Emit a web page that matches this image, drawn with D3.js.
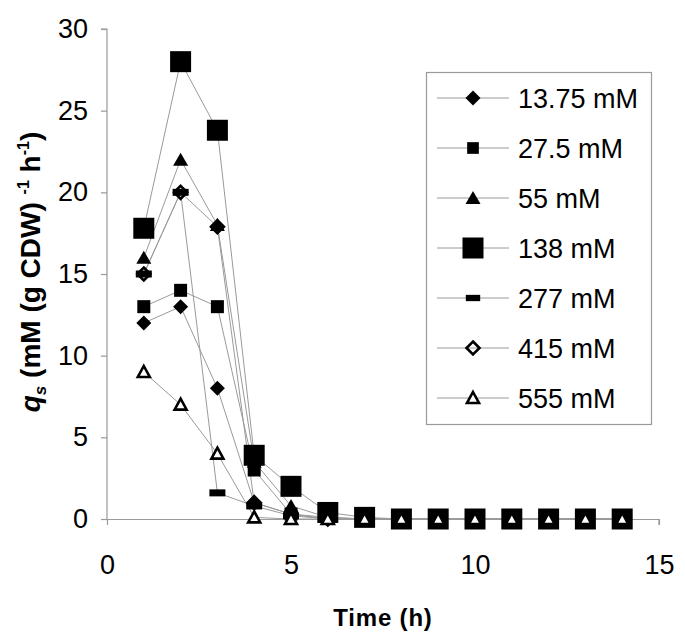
<!DOCTYPE html>
<html><head><meta charset="utf-8">
<script src="https://cdn.jsdelivr.net/npm/d3@7"></script>
<style>html,body{margin:0;padding:0;background:#fff;}svg{display:block;font-family:"Liberation Sans",Arial,sans-serif;}</style>
</head><body><svg id="c" width="685" height="637"></svg>
<script>
const time = [1,2,3,4,5,6,7,8,9,10,11,12,13,14];
const seriesNames = ["13.75 mM","27.5 mM","55 mM","138 mM","277 mM","415 mM","555 mM"];
const s13_75 = [12, 13, 8, 1, 0.3, 0, 0, 0, 0, 0, 0, 0, 0, 0];
const s27_5  = [13, 14, 13, 3, 0.3, 0.1, 0, 0, 0, 0, 0, 0, 0, 0];
const s55    = [16, 22, 18, 3.5, 0.8, 0.1, 0, 0, 0, 0, 0, 0, 0, 0];
const s138   = [17.8, 28, 23.8, 3.9, 2, 0.4, 0.1, 0, 0, 0, 0, 0, 0, 0];
const s277   = [15, 20, 1.6, 0.8, 0.2, 0, 0, 0, 0, 0, 0, 0, 0, 0];
const s415   = [15, 20, 17.9, 1, 0.3, 0, 0, 0, 0, 0, 0, 0, 0, 0];
const s555   = [9, 7, 4, 0.1, 0, 0, 0, 0, 0, 0, 0, 0, 0, 0];
const xTicks = [0, 5, 10, 15];
const yTicks = [0, 5, 10, 15, 20, 25, 30];
const markers = ["diamond","square","triangle","bigsquare","dash","odiamond","otriangle"];

const values = [s13_75, s27_5, s55, s138, s277, s415, s555];
const series = seriesNames.map((n,i)=>({name:n, marker:markers[i], pts: time.map((t,j)=>({t, v: values[i][j]}))}));

const svg = d3.select("#c");
const x = d3.scaleLinear().domain([0,15]).range([107,659]);
const y = d3.scaleLinear().domain([0,30]).range([519,29]);
const gray = "#9a9a9a";

function markerPath(type, s){
  switch(type){
    case "diamond": { const h=7.5; return `M0,${-h}L${h},0L0,${h}L${-h},0Z`; }
    case "odiamond": { const h=6.5; return `M0,${-h}L${h},0L0,${h}L${-h},0Z`; }
    case "square": { const h=6.5*s; return `M${-h},${-h}H${h}V${h}H${-h}Z`; }
    case "bigsquare": { const h=10.5; return `M${-h},${-h}H${h}V${h}H${-h}Z`; }
    case "triangle": { const w=7.5, t=7, b=6; return `M0,${-t}L${w},${b}L${-w},${b}Z`; }
    case "otriangle": { const w=6, t=6, b=5; return `M0,${-t}L${w},${b}L${-w},${b}Z`; }
    case "dash": { const w=8*s, h=3.5*s; return `M${-w},${-h}H${w}V${h}H${-w}Z`; }
  }
}
function styleMarker(sel, type){
  const open = type==="odiamond"||type==="otriangle";
  sel.attr("fill", type==="odiamond" ? "none" : (open ? "#fff" : "#000"))
     .attr("stroke", open ? "#000" : "none")
     .attr("stroke-width", open ? 2.6 : 0);
}

// axes
const yAxis = d3.axisLeft(y).tickValues(yTicks).tickSize(6).tickPadding(13).tickFormat(d3.format("d"));
const gy = svg.append("g").attr("transform","translate(107,0)").call(yAxis);
const xAxis = d3.axisBottom(x).tickValues(xTicks).tickSize(6).tickPadding(30).tickFormat(d3.format("d"));
const gx = svg.append("g").attr("transform","translate(0,519)").call(xAxis);
[gx, gy].forEach(g=>{
  g.select(".domain").attr("stroke", gray).attr("stroke-width",1.2);
  g.selectAll(".tick line").attr("stroke", gray).attr("stroke-width",1.2);
  g.selectAll(".tick text").attr("fill","#000").attr("font-size", 27).attr("font-family","Liberation Sans, Arial, sans-serif");
});
gx.select(".domain").attr("d", `M101,0.5H${x(15)}V6`);
gy.select(".domain").attr("d", `M-6,${y(30)}H0V${y(0)}`);

// lines
const line = d3.line().x(d=>x(d.t)).y(d=>y(d.v));
series.forEach(s=>{
  svg.append("path").datum(s.pts).attr("d", line).attr("fill","none").attr("stroke", gray).attr("stroke-width",1);
});
// markers
series.forEach(s=>{
  const g = svg.append("g");
  g.selectAll("path").data(s.pts).join("path")
    .attr("transform", d=>`translate(${x(d.t)},${y(d.v)})`)
    .attr("d", markerPath(s.marker,1))
    .call(styleMarker, s.marker);
});

// legend
const lg = svg.append("g");
lg.append("rect").attr("x",426.5).attr("y",72.5).attr("width",225).attr("height",352)
  .attr("fill","#fff").attr("stroke", gray).attr("stroke-width",1.2);
series.forEach((s,i)=>{
  const cy = 98 + i*50;
  lg.append("line").attr("x1",437).attr("x2",509).attr("y1",cy).attr("y2",cy).attr("stroke",gray).attr("stroke-width",1);
  lg.append("path").attr("transform",`translate(473,${cy})`).attr("d", markerPath(s.marker,0.9)).call(styleMarker, s.marker);
  lg.append("text").attr("x",518).attr("y",cy+10).attr("font-size",27).text(s.name);
});

// axis titles
svg.append("text").attr("x",383).attr("y",626).attr("text-anchor","middle")
  .attr("font-size",24).attr("font-weight","bold").attr("letter-spacing",0.8).text("Time (h)");
const yt = svg.append("text").attr("transform","translate(40,272) rotate(-90)").attr("text-anchor","middle")
  .attr("font-size",28).attr("font-weight","bold");
yt.append("tspan").attr("font-style","italic").text("q");
yt.append("tspan").attr("font-style","italic").attr("font-size",17).attr("dy",6).text("s");
yt.append("tspan").attr("dy",-6).text("  (mM (g CDW) ");
yt.append("tspan").attr("font-size",16).attr("dy",-11).text("-1");
yt.append("tspan").attr("dy",11).text(" h");
yt.append("tspan").attr("font-size",16).attr("dy",-11).text("-1");
yt.append("tspan").attr("dy",11).text(")");
</script></body></html>
